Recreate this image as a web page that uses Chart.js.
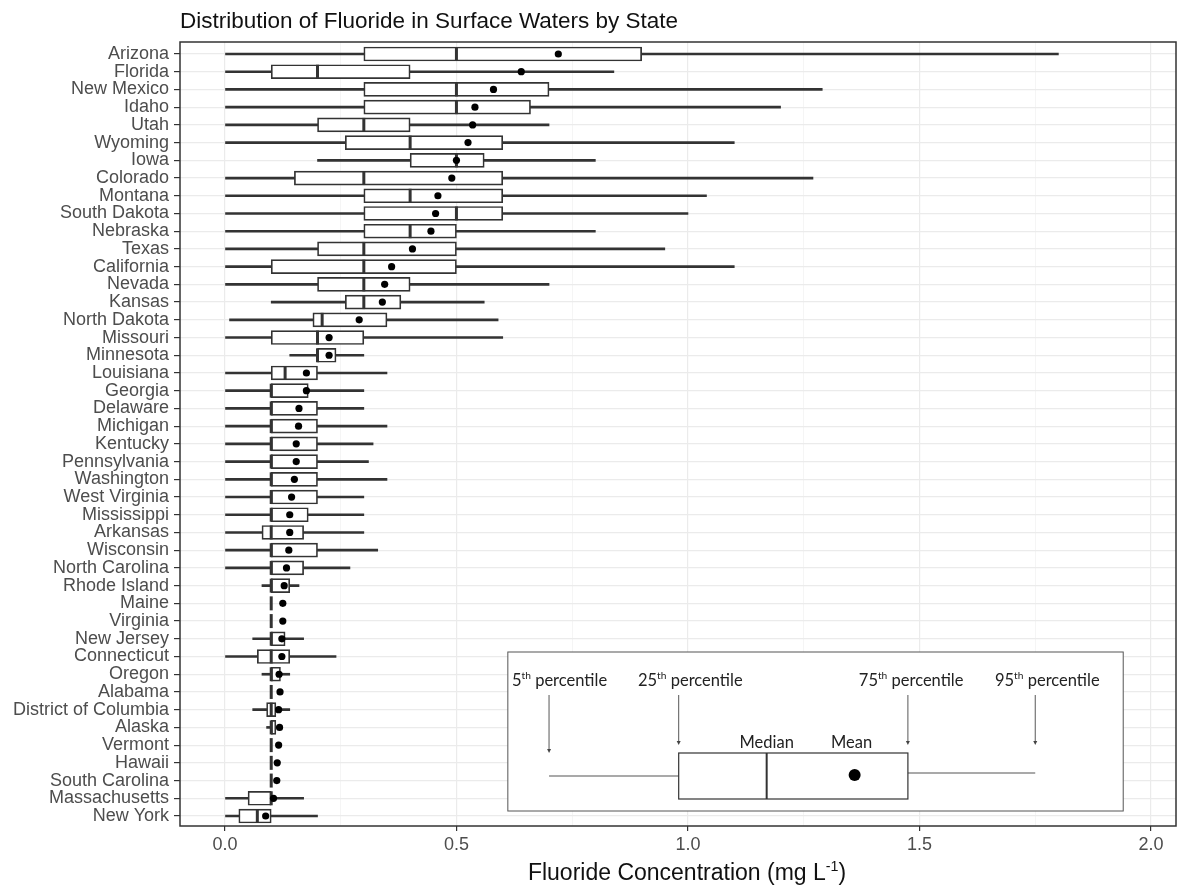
<!DOCTYPE html>
<html>
<head>
<meta charset="utf-8">
<script src="https://cdn.jsdelivr.net/npm/chart.js@4.4.1/dist/chart.umd.min.js"></script>
<style>
  body { margin: 0; background: #fff; }
  #wrap { width: 1189px; height: 890px; }
</style>
</head>
<body>
<div id="wrap"><canvas id="chart" width="1189" height="890"></canvas></div>
<script>
// values, mg/L
const states = ["Arizona", "Florida", "New Mexico", "Idaho", "Utah", "Wyoming", "Iowa", "Colorado",
  "Montana", "South Dakota", "Nebraska", "Texas", "California", "Nevada", "Kansas", "North Dakota",
  "Missouri", "Minnesota", "Louisiana", "Georgia", "Delaware", "Michigan", "Kentucky", "Pennsylvania",
  "Washington", "West Virginia", "Mississippi", "Arkansas", "Wisconsin", "North Carolina", "Rhode Island",
  "Maine", "Virginia", "New Jersey", "Connecticut", "Oregon", "Alabama", "District of Columbia", "Alaska",
  "Vermont", "Hawaii", "South Carolina", "Massachusetts", "New York"];

const p5 = [0, 0, 0, 0, 0, 0, 0.20, 0, 0, 0, 0, 0, 0, 0, 0.10, 0.01,
  0, 0.14, 0, 0, 0, 0, 0, 0, 0, 0, 0, 0, 0, 0, 0.08,
  0.10, 0.10, 0.06, 0, 0.08, 0.10, 0.06, 0.09, 0.10, 0.10, 0.10, 0, 0];
const q1 = [0.30, 0.10, 0.30, 0.30, 0.20, 0.26, 0.40, 0.15, 0.30, 0.30, 0.30, 0.20, 0.10, 0.20, 0.26, 0.19,
  0.10, 0.20, 0.10, 0.10, 0.10, 0.10, 0.10, 0.10, 0.10, 0.10, 0.10, 0.08, 0.10, 0.10, 0.10,
  0.10, 0.10, 0.10, 0.07, 0.10, 0.10, 0.09, 0.10, 0.10, 0.10, 0.10, 0.05, 0.03];
const median = [0.50, 0.20, 0.50, 0.50, 0.30, 0.40, 0.50, 0.30, 0.40, 0.50, 0.40, 0.30, 0.30, 0.30, 0.30, 0.21,
  0.20, 0.20, 0.13, 0.10, 0.10, 0.10, 0.10, 0.10, 0.10, 0.10, 0.10, 0.10, 0.10, 0.10, 0.10,
  0.10, 0.10, 0.10, 0.10, 0.10, 0.10, 0.10, 0.10, 0.10, 0.10, 0.10, 0.10, 0.07];
const q3 = [0.90, 0.40, 0.70, 0.66, 0.40, 0.60, 0.56, 0.60, 0.60, 0.60, 0.50, 0.50, 0.50, 0.40, 0.38, 0.35,
  0.30, 0.24, 0.20, 0.18, 0.20, 0.20, 0.20, 0.20, 0.20, 0.20, 0.18, 0.17, 0.20, 0.17, 0.14,
  0.10, 0.10, 0.13, 0.14, 0.12, 0.10, 0.11, 0.11, 0.10, 0.10, 0.10, 0.10, 0.10];
const p95 = [1.80, 0.84, 1.29, 1.20, 0.70, 1.10, 0.80, 1.27, 1.04, 1.00, 0.80, 0.95, 1.10, 0.70, 0.56, 0.59,
  0.60, 0.30, 0.35, 0.30, 0.30, 0.35, 0.32, 0.31, 0.35, 0.30, 0.30, 0.30, 0.33, 0.27, 0.16,
  0.10, 0.10, 0.17, 0.24, 0.14, 0.10, 0.14, 0.11, 0.10, 0.10, 0.10, 0.17, 0.20];
const mean = [0.72, 0.64, 0.58, 0.54, 0.535, 0.525, 0.50, 0.49, 0.46, 0.455, 0.445, 0.405, 0.36, 0.345, 0.34, 0.29,
  0.225, 0.225, 0.176, 0.176, 0.16, 0.159, 0.154, 0.154, 0.15, 0.144, 0.14, 0.14, 0.138, 0.133, 0.128,
  0.125, 0.125, 0.123, 0.123, 0.117, 0.119, 0.116, 0.118, 0.116, 0.113, 0.112, 0.105, 0.088];

const majorTicks = [0, 0.5, 1, 1.5, 2];
const minorTicks = [0.25, 0.75, 1.25, 1.75];
const xTickLabels = ["0.0", "0.5", "1.0", "1.5", "2.0"];

// key inset: p5, q1, median, mean, q3, p95 (in x units)
const keyStats = [0.70, 0.98, 1.17, 1.36, 1.475, 1.75];
const keyPercentiles = ["5", "25", "75", "95"];
const keyLabelX = [0.62, 0.892, 1.369, 1.663];

const SANS = "'Liberation Sans', Arial, sans-serif";
const KEYFONT = "Lato, 'Open Sans', sans-serif";

// text with superscript parts: [[text, isSup], ...]
function drawRich(ctx, parts, x, y, size, family, align) {
  let w = 0;
  parts.forEach(p => {
    ctx.font = (p[1] ? size * 0.62 : size) + "px " + family;
    w += ctx.measureText(p[0]).width;
  });
  let cx = align === "center" ? x - w / 2 : x;
  ctx.textAlign = "left";
  ctx.textBaseline = "alphabetic";
  parts.forEach(p => {
    const s = p[1] ? size * 0.62 : size;
    ctx.font = s + "px " + family;
    ctx.fillText(p[0], cx, p[1] ? y - size * 0.4 : y);
    cx += ctx.measureText(p[0]).width;
  });
}

function arrowDown(ctx, x, y1, y2) {
  ctx.beginPath();
  ctx.moveTo(x, y1);
  ctx.lineTo(x, y2 - 4);
  ctx.stroke();
  ctx.beginPath();
  ctx.moveTo(x - 2, y2 - 4);
  ctx.lineTo(x + 2, y2 - 4);
  ctx.lineTo(x, y2);
  ctx.closePath();
  ctx.fill();
}

const overlay = {
  id: "overlay",
  afterDatasetsDraw(chart) {
    const ctx = chart.ctx;
    const a = chart.chartArea;
    const xs = chart.scales.x;
    const px = v => xs.getPixelForValue(v);
    ctx.save();

    // panel border
    ctx.strokeStyle = "#333";
    ctx.lineWidth = 1.5;
    ctx.strokeRect(a.left, a.top, a.right - a.left, a.bottom - a.top);

    // key inset
    const b = a.bottom;
    const fx1 = px(0.611), fx2 = px(1.94);
    ctx.fillStyle = "#fff";
    ctx.fillRect(fx1, b - 174, fx2 - fx1, 159);
    ctx.strokeStyle = "#555";
    ctx.lineWidth = 1;
    ctx.strokeRect(fx1, b - 174, fx2 - fx1, 159);

    const [k5, k25, kmed, kmean, k75, k95] = keyStats;
    ctx.strokeStyle = "#555";
    ctx.lineWidth = 1.2;
    ctx.beginPath();
    ctx.moveTo(px(k5), b - 50); ctx.lineTo(px(k25), b - 50);
    ctx.moveTo(px(k75), b - 53); ctx.lineTo(px(k95), b - 53);
    ctx.stroke();
    ctx.strokeStyle = "#333";
    ctx.strokeRect(px(k25), b - 73, px(k75) - px(k25), 46);
    ctx.lineWidth = 2;
    ctx.beginPath();
    ctx.moveTo(px(kmed), b - 73); ctx.lineTo(px(kmed), b - 27);
    ctx.stroke();
    ctx.fillStyle = "#000";
    ctx.beginPath();
    ctx.arc(px(kmean), b - 51, 6, 0, Math.PI * 2);
    ctx.fill();

    ctx.strokeStyle = "#444";
    ctx.fillStyle = "#444";
    ctx.lineWidth = 0.9;
    arrowDown(ctx, px(k5), b - 131, b - 73);
    arrowDown(ctx, px(k25), b - 131, b - 81);
    arrowDown(ctx, px(k75), b - 131, b - 81);
    arrowDown(ctx, px(k95), b - 131, b - 81);

    ctx.fillStyle = "#222";
    keyPercentiles.forEach((p, i) => {
      drawRich(ctx, [[p, false], ["th", true], [" percentile", false]], px(keyLabelX[i]), b - 140, 16.5, KEYFONT, "left");
    });
    drawRich(ctx, [["Median", false]], px(kmed), b - 78, 16.5, KEYFONT, "center");
    drawRich(ctx, [["Mean", false]], px(kmean) - 3, b - 78, 16.5, KEYFONT, "center");
    ctx.restore();
  },
  afterDraw(chart) {
    const ctx = chart.ctx;
    const a = chart.chartArea;
    ctx.save();
    ctx.fillStyle = "#111";
    drawRich(ctx, [["Distribution of Fluoride in Surface Waters by State", false]], a.left, 28, 22.5, SANS, "left");
    drawRich(ctx, [["Fluoride Concentration (mg L", false], ["-1", true], [")", false]],
      687, 880, 23, SANS, "center");
    ctx.restore();
  }
};

const pts = arr => arr.map((v, i) => ({ x: v, y: i }));

new Chart(document.getElementById("chart"), {
  type: "bar",
  data: {
    datasets: [
      {
        type: "scatter", label: "Mean", data: pts(mean),
        pointRadius: 3.6, pointBackgroundColor: "#000", pointBorderWidth: 0, order: 0
      },
      {
        type: "scatter", label: "Median", data: pts(median),
        pointStyle: "line", rotation: 90, pointRadius: 7,
        pointBorderColor: "#333", pointBorderWidth: 3, order: 1
      },
      {
        label: "25th-75th", data: q1.map((v, i) => ({ x: [v, q3[i]], y: i })),
        backgroundColor: "#fff", borderColor: "#333", borderWidth: 1.7, borderSkipped: false,
        barThickness: 14, grouped: false, order: 2
      },
      {
        label: "5th-95th", data: p5.map((v, i) => ({ x: [v, p95[i]], y: i })),
        backgroundColor: "#333", borderWidth: 0, barThickness: 2, grouped: false, order: 3
      }
    ]
  },
  options: {
    indexAxis: "y",
    responsive: false,
    animation: false,
    events: [],
    layout: { padding: { top: 42, right: 13, left: 0, bottom: 0 } },
    plugins: { legend: { display: false }, title: { display: false }, tooltip: { enabled: false } },
    scales: {
      x: {
        type: "linear",
        min: -0.097,
        max: 2.054,
        offset: false,
        afterBuildTicks: s => {
          s.ticks = majorTicks.concat(minorTicks).sort((p, q) => p - q).map(v => ({ value: v }));
        },
        afterFit: s => { s.height = 64; },
        border: { display: false },
        grid: {
          offset: false,
          color: c => majorTicks.includes(c.tick.value) ? "#ebebeb" : "#f2f2f2",
          lineWidth: c => majorTicks.includes(c.tick.value) ? 1.2 : 0.8,
          tickColor: c => majorTicks.includes(c.tick.value) ? "#333" : "rgba(0,0,0,0)",
          tickLength: 5,
          tickWidth: 1.2
        },
        ticks: {
          autoSkip: false,
          maxRotation: 0,
          padding: 3,
          color: "#4d4d4d",
          font: { family: SANS, size: 18 },
          callback: v => {
            const k = majorTicks.indexOf(v);
            return k >= 0 ? xTickLabels[k] : "";
          }
        }
      },
      y: {
        type: "linear",
        reverse: true,
        min: -0.677,
        max: 43.564,
        offset: false,
        afterBuildTicks: s => { s.ticks = states.map((_, i) => ({ value: i })); },
        afterFit: s => { s.width = 180; },
        border: { display: false },
        grid: { offset: false, color: "#ebebeb", lineWidth: 1.2, tickColor: "#333", tickLength: 6, tickWidth: 1.2 },
        ticks: {
          autoSkip: false,
          padding: 5,
          color: "#4d4d4d",
          font: { family: SANS, size: 18 },
          callback: v => states[v]
        }
      }
    }
  },
  plugins: [overlay]
});
</script>
</body>
</html>
